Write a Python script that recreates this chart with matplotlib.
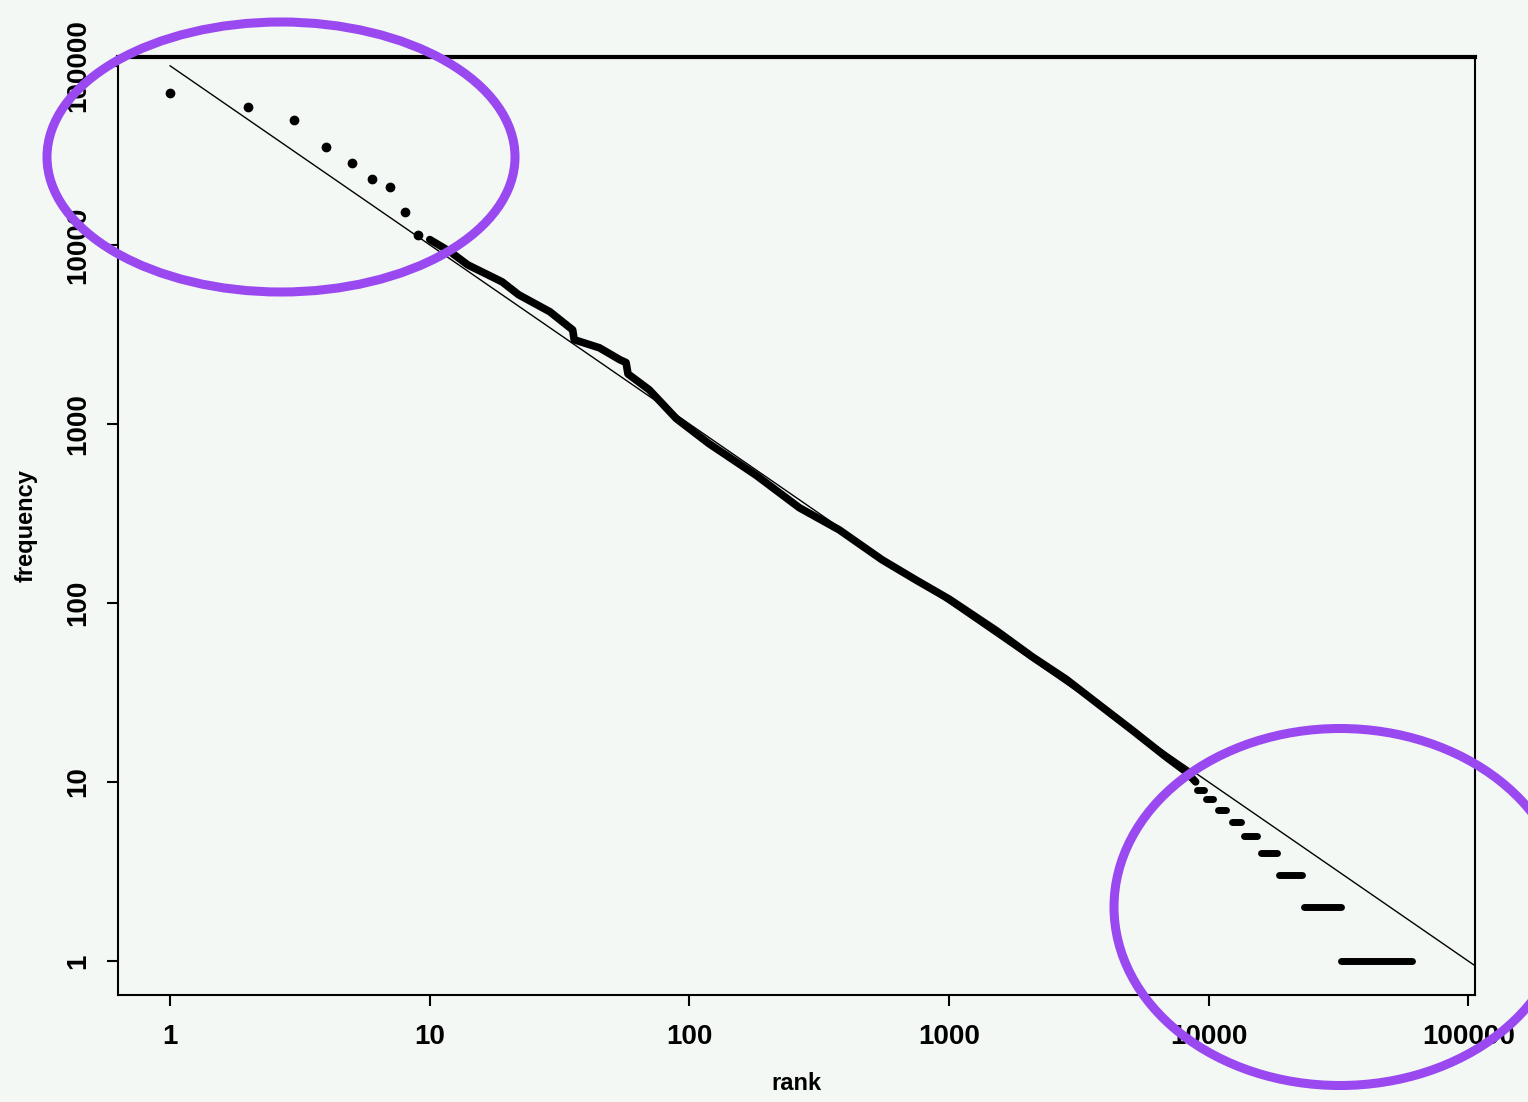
import matplotlib
matplotlib.use('Agg')
import matplotlib.pyplot as plt
from matplotlib.patches import Ellipse
from matplotlib.ticker import NullLocator

# top-ranked words, plotted as single points
top_rank = [1, 2, 3, 4, 5, 6, 7, 8, 9]
top_freq = [70600, 59000, 49900, 35300, 28700, 23400, 21100, 15300, 11400]

# dense middle part of the rank/frequency curve
curve_rank = [10, 12, 14, 19, 22, 29, 35.5, 36, 45, 54, 57, 58, 70, 89, 119,
              181, 265, 377, 552, 747, 1000, 1520, 2090, 2820, 3780, 5060,
              6840, 8170, 8900]
curve_freq = [10700, 9140, 7730, 6210, 5260, 4230, 3350, 2950, 2660, 2280,
              2200, 1900, 1550, 1070, 775, 515, 340, 256, 174, 134, 105, 70,
              50, 37.5, 27, 19.5, 13.8, 11.4, 10]

# low-frequency tail: constant frequency over a range of ranks
step_freq = [9, 8, 7, 6, 5, 4, 3, 2, 1]
step_start = [9000, 9800, 10900, 12300, 13650, 15900, 18600, 23200, 32200]
step_end = [9600, 10400, 11700, 13300, 15300, 18300, 22800, 32200, 60400]

# fitted Zipf line (slope -1)
fit_rank = [1, 106000]
fit_freq = [100000, 0.94]

x_ticks = [1, 10, 100, 1000, 10000, 100000]
x_ticklabels = ['1', '10', '100', '1000', '10000', '100000']
y_ticks = [1, 10, 100, 1000, 10000, 100000]
y_ticklabels = ['1', '10', '100', '1000', '10000', '100000']

bg = '#f3f8f5'
purple = '#9a48f0'
W, H = 1528, 1102

fig = plt.figure(figsize=(W / 100, H / 100), dpi=100, facecolor=bg)
plt.rcParams['font.family'] = ['Liberation Sans', 'DejaVu Sans']

# axes box in pixel terms: left 118, right 1475, top 57, bottom 995
ax = fig.add_axes([118 / W, (H - 995) / H, (1475 - 118) / W, (995 - 57) / H])
ax.set_facecolor(bg)
ax.set_xscale('log')
ax.set_yscale('log')
ax.set_xlim(0.63, 106000)
ax.set_ylim(0.645, 112000)

ax.plot(fit_rank, fit_freq, color='black', lw=1.0, zorder=2)
ax.plot(curve_rank, curve_freq, color='black', lw=5.5,
        solid_capstyle='round', solid_joinstyle='round', zorder=3)
ax.plot(top_rank, top_freq, 'o', color='black', markersize=6, zorder=3)
ax.hlines(step_freq, step_start, step_end, colors='black', lw=5,
          capstyle='round', zorder=3)

ax.xaxis.set_minor_locator(NullLocator())
ax.yaxis.set_minor_locator(NullLocator())
ax.set_xticks(x_ticks)
ax.set_xticklabels(x_ticklabels)
ax.set_yticks(y_ticks)
ax.set_yticklabels(y_ticklabels, rotation=90, va='center')
ax.tick_params(axis='x', length=8, width=1.5, pad=13, labelsize=20)
ax.tick_params(axis='y', length=8, width=1.5, pad=11, labelsize=20)
for lab in ax.get_xticklabels() + ax.get_yticklabels():
    lab.set_fontweight('bold')

for side in ['left', 'bottom', 'right']:
    ax.spines[side].set_linewidth(1.5)
ax.spines['top'].set_linewidth(3)

ax.set_xlabel('rank', fontsize=17, fontweight='bold', labelpad=16)
ax.set_ylabel('frequency', fontsize=17, fontweight='bold', labelpad=20)

# purple highlight ellipses, drawn in figure pixel coordinates
ov = fig.add_axes([0, 0, 1, 1])
ov.set_xlim(0, W)
ov.set_ylim(H, 0)
ov.axis('off')
ov.patch.set_alpha(0)
ov.add_patch(Ellipse((281, 157), 468, 270, fill=False, ec=purple, lw=6.5))
ov.add_patch(Ellipse((1340, 907), 452, 357, fill=False, ec=purple, lw=6.5,
                     clip_on=False))

fig.savefig('out.png', dpi=100, facecolor=bg)
